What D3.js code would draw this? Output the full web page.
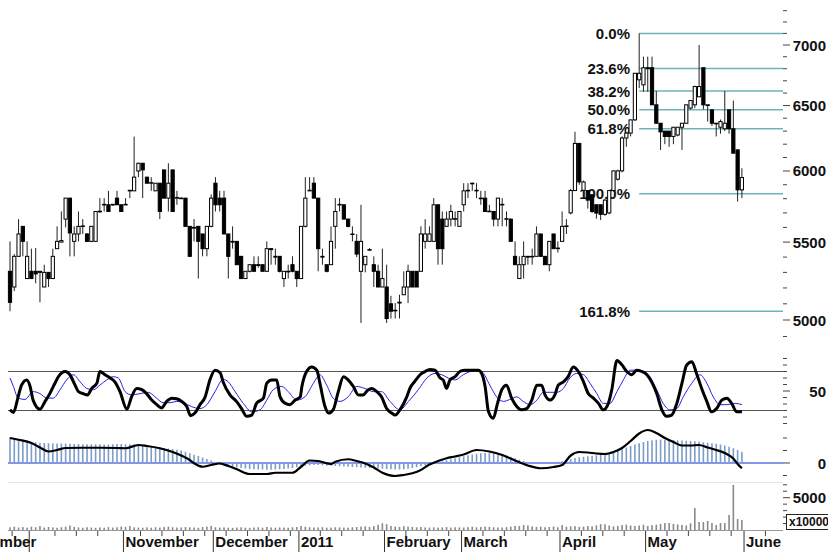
<!DOCTYPE html>
<html>
<head>
<meta charset="utf-8">
<script src="https://cdn.jsdelivr.net/npm/d3@7"></script>
<style>
  body { margin: 0; background: #fff; }
  svg text { font-family: "Liberation Sans", Arial, sans-serif; font-weight: bold; fill: #111; }
</style>
</head>
<body>
<svg id="chart" width="828" height="552"></svg>
<script>
// daily candles, index 0 = last days of September 2010, last = 31 May 2011
const open = [5307,5206,5405,5607,5260,5307,5307,5300,5206,5300,5260,5456,5500,5657,5804,5505,5555,5607,5555,5505,
  5505,5710,5757,5757,5757,5804,5757,5757,5856,5856,6000,6057,5955,5911,5856,5911,6008,5804,6008,5804,
  5804,5804,5607,5600,5607,5555,5456,5607,5911,5804,5804,5555,5505,5505,5405,5260,5307,5350,5350,5350,
  5307,5456,5405,5405,5260,5307,5350,5307,5260,5607,5856,5911,5804,5405,5350,5350,5607,5757,5757,5657,
  5555,5505,5307,5350,5450,5350,5307,5206,5206,5100,5060,5105,5157,5206,5307,5307,5307,5505,5505,5505,
  5757,5657,5607,5657,5657,5607,5757,5856,5911,5856,5804,5804,5710,5710,5657,5757,5657,5657,5405,5260,
  5350,5405,5405,5405,5555,5405,5350,5555,5456,5505,5607,5700,5858,6206,5860,5858,5828,5757,5757,5690,
  5700,5858,5940,6001,6247,6285,6387,6708,6667,6808,6808,6506,6361,6300,6300,6259,6270,6330,6361,6480,
  6506,6570,6808,6506,6466,6361,6330,6318,6466,6318,6157,5863];
const high = [5505,5420,5657,5607,5505,5456,5460,5307,5350,5300,5456,5607,5710,5804,5804,5607,5710,5657,5560,5610,
  5710,5804,5804,5856,5760,5856,5757,5804,5860,6258,6060,6057,5955,5955,5911,5911,6008,6057,6008,5856,
  5810,5804,5607,5657,5607,5555,5607,5830,5955,5856,5856,5555,5607,5505,5405,5307,5350,5405,5405,5350,
  5505,5456,5456,5405,5307,5350,5405,5307,5607,5955,5955,5955,5804,5456,5350,5607,5804,5804,5757,5660,
  5607,5555,5757,5405,5460,5405,5350,5456,5350,5150,5105,5157,5307,5350,5307,5307,5607,5657,5607,5804,
  5757,5710,5710,5757,5710,5710,5911,5911,5915,5911,5856,5856,5757,5710,5804,5804,5710,5660,5505,5405,
  5505,5405,5456,5607,5555,5405,5505,5555,5505,5710,5657,5870,6295,6206,5930,5858,5830,5760,5760,5800,
  5860,6001,6010,6260,6290,6390,6762,7100,6901,6901,6901,6617,6361,6300,6300,6330,6330,6361,6506,6540,
  6660,7000,6808,6506,6466,6361,6390,6617,6466,6540,6160,6020];
const low = [5054,5180,5405,5405,5260,5260,5230,5109,5206,5206,5260,5456,5500,5600,5405,5405,5505,5555,5500,5500,
  5505,5700,5710,5710,5750,5757,5710,5757,5804,5856,5955,5804,5911,5856,5856,5657,5804,5710,5710,5757,
  5800,5607,5405,5505,5260,5405,5405,5600,5710,5710,5555,5260,5456,5350,5260,5260,5300,5307,5330,5307,
  5307,5350,5350,5300,5206,5260,5300,5206,5260,5600,5856,5804,5307,5350,5300,5350,5456,5710,5657,5600,
  5505,5400,4982,5300,5440,5206,5206,5206,4982,5009,5009,5009,5157,5105,5206,5206,5307,5456,5505,5505,
  5350,5350,5607,5607,5607,5607,5710,5804,5856,5804,5757,5710,5710,5607,5607,5607,5607,5505,5350,5260,
  5260,5350,5350,5405,5405,5350,5307,5456,5430,5505,5555,5690,5858,5900,5850,5730,5700,5660,5650,5680,
  5690,5850,5930,5990,6180,6259,6380,6640,6611,6611,6506,6361,6157,6200,6180,6200,6260,6157,6361,6470,
  6480,6570,6470,6374,6340,6259,6280,6300,6280,6132,5780,5804];
const close = [5109,5405,5555,5505,5405,5260,5290,5307,5300,5260,5405,5505,5510,5804,5562,5555,5607,5610,5505,5607,
  5710,5712,5760,5710,5760,5757,5710,5760,5860,5955,6057,6008,5911,5915,5911,5710,5804,5911,5710,5808,
  5800,5607,5405,5595,5505,5456,5607,5804,5757,5757,5555,5405,5500,5350,5260,5307,5350,5307,5345,5307,
  5456,5450,5400,5307,5307,5305,5307,5260,5607,5804,5860,5804,5456,5400,5307,5505,5710,5760,5657,5607,
  5555,5420,5505,5405,5450,5307,5206,5260,5009,5054,5060,5110,5206,5307,5206,5206,5555,5555,5555,5757,
  5456,5456,5657,5710,5660,5710,5856,5860,5911,5860,5800,5710,5712,5657,5804,5760,5660,5505,5350,5350,
  5405,5400,5405,5555,5405,5350,5505,5456,5460,5607,5610,5858,6206,5920,5920,5790,5710,5699,5690,5790,
  5858,6001,6001,6247,6285,6387,6762,6762,6808,6800,6506,6361,6294,6259,6259,6330,6330,6361,6506,6540,
  6653,6653,6506,6500,6361,6361,6374,6361,6318,6132,5863,5952];

// volume, x10000 shares
const volume = [420,520,380,450,360,500,420,610,380,470,400,350,430,520,690,480,400,350,420,380,330,
  400,360,450,380,420,550,480,610,420,380,350,400,360,430,380,450,520,420,380,400,460,
  420,380,350,460,520,640,420,380,400,350,330,380,420,360,340,380,420,350,470,380,360,
  400,380,350,420,460,620,500,420,380,400,440,360,380,420,400,380,360,420,460,520,560,
  480,600,820,1050,900,620,520,480,600,520,460,420,480,400,380,420,360,400,460,380,420,
  400,380,440,500,420,460,520,480,420,400,380,440,520,640,620,780,700,560,480,520,420,
  460,540,420,760,500,560,600,480,520,620,560,720,900,880,700,560,620,760,820,700,620,
  700,820,620,740,820,940,1080,1080,940,860,780,700,1040,3400,1240,1240,1400,1080,780,1080,1080,
  2330,6980,1700,1550];

// MACD histogram per day and MACD line read at its turning points [day, value]
const macdHist = [103,100,96,92,88,85,83,81,80,79,78,78,78,78,77,76,76,75,75,75,75,75,74,74,75,76,76,75,75,75,
  74,72,70,67,64,62,60,58,56,53,50,45,39,33,28,22,16,10,4,
  -4,-8,-12,-15,-18,-20,-22,-24,-25,-26,-26,-27,-27,-26,-25,-24,-22,-20,-17,
  -14,-11,-9,-8,-8,-9,-10,-11,-12,-13,-14,-15,-16,-17,-18,
  -19,-20,-21,-22,-23,-24,-25,-26,-26,-25,-23,-20,-17,
  -13,-9,-5,-1,3,7,11,15,19,23,27,31,34,37,39,40,40,39,37,34,
  30,25,19,13,8,4,1,-1,-2,-2,0,2,5,8,12,16,
  20,23,25,27,29,31,34,37,41,45,50,56,62,68,
  74,79,84,88,91,93,94,94,93,92,91,90,89,88,87,85,83,81,79,77,74,70,65,59,52,45];
const macdLine = [[0,100],[2,93],[5,80],[7,62],[9,46],[11,52],[13,60],[17,61],[21,61],[25,60],[27,59],[30,72],
  [32,68],[35,59],[38,44],[40,30],[42,12],[43,-1],[45,-15],[47,-8],[49,-2],[51,-12],[53,-25],[56,-44],[60,-44],
  [62,-39],[66,-39],[68,-15],[70,10],[72,8],[75,-4],[76,5],[79,15],[81,8],[83,-2],[85,-18],[87,-39],[90,-52],
  [92,-48],[94,-41],[96,-28],[98,-6],[100,8],[102,19],[104,26],[106,34],[109,52],[112,46],[115,32],[118,10],
  [121,-10],[124,-21],[127,-16],[129,-8],[131,30],[133,44],[135,42],[137,38],[139,36],[141,44],[143,60],
  [145,88],[147,118],[149,132],[151,120],[153,100],[155,84],[157,70],[159,70],[161,72],[163,62],[165,52],
  [167,40],[169,18],[170,-4],[171,-21]];

// slow stochastic %K and %D, read at their turning points [day, value]
const stochK = [[0,21],[0.8,17],[1.9,41],[2.7,59],[3.9,67],[4.7,57],[5.4,36],[7,22],[8.2,34],[9.3,46],[10.5,62],
  [11.3,72],[12.9,80],[14,75],[15.2,59],[16,49],[17.1,46],[18.1,44],[19.1,54],[20.3,62],[21,80],[22.2,75],
  [23.4,70],[24.5,64],[25.7,49],[27.3,22],[28.4,41],[29.6,54],[30.8,52],[31.9,46],[33.1,36],[34.3,29],
  [35.4,24],[36.6,34],[37.8,39],[38.9,38],[40.1,34],[41.3,26],[42.2,12],[43.2,16],[44.4,29],[45.6,41],
  [46.7,67],[47.9,82],[49.1,78],[49.8,64],[51.4,44],[52.9,34],[54.1,23],[55.3,11],[56.5,13],[57.6,31],
  [59.2,39],[60,62],[61.1,67],[62.3,67],[63.1,41],[64.3,31],[65.4,29],[66.6,36],[67.8,41],[68.2,57],
  [69.3,80],[70.5,87],[71.7,82],[72.4,62],[73.6,26],[74.4,16],[75.5,21],[76.7,49],[77.9,72],[79,67],
  [80.2,57],[81.4,44],[82.5,44],[83.7,52],[84.5,54],[85.7,49],[86.8,41],[88,23],[89.2,16],[90,13],
  [91.1,21],[92.7,41],[93.5,55],[94.6,65],[95.8,75],[97,80],[98.1,83],[99.3,82],[100.5,70],[101.2,67],
  [102,54],[102.8,67],[104,72],[105.1,80],[106.3,82],[107.9,82],[109.4,82],[110.2,77],[111,57],[111.8,18],
  [112.9,8],[113.9,31],[114.9,52],[116,59],[117.2,39],[118.4,26],[119.5,21],[120.7,23],[121.9,36],
  [123.1,59],[124.2,59],[125,44],[126.2,36],[127.3,44],[128.1,59],[129.3,64],[130.4,72],[131.6,87],
  [132.8,80],[134,64],[135.1,46],[136.3,39],[137.5,31],[138.6,21],[139.8,31],[140.6,52],[141.8,97],
  [143,90],[144.1,80],[145.3,75],[146.4,82],[147.6,80],[148.8,75],[149.9,64],[151.1,46],[152.3,21],
  [153.4,11],[154.6,13],[155.8,31],[157,62],[158.1,90],[159.3,95],[160.4,77],[161.6,54],[162.8,34],
  [163.9,18],[165.1,23],[166.3,36],[167.5,39],[168.6,31],[169.8,18],[171,18]];
const stochD = [[0,70],[0.8,57],[1.9,39],[3.5,37],[5.4,49],[7,46],[8.6,39],[10.1,39],[11.7,52],[13.2,67],
  [14.8,75],[16.4,64],[17.9,54],[19.5,52],[21,59],[22.6,67],[24.1,72],[25.3,70],[26.9,49],[28.4,44],
  [30.4,46],[32.3,48],[33.9,41],[35.8,32],[37.4,32],[38.9,34],[40.5,32],[42.4,26],[44.4,23],[46,29],
  [47.9,49],[49.8,68],[51,64],[52.6,49],[54.5,31],[56.5,18],[58.4,21],[60,36],[61.5,52],[63.5,57],
  [65,49],[67,36],[68.9,41],[70.9,62],[72.4,75],[74,59],[75.5,39],[77.1,34],[79,41],[81,57],[82.9,54],
  [84.9,49],[86.8,49],[88.8,34],[91.1,21],[93.1,34],[95.4,52],[97.4,70],[99.3,77],[100.9,75],[102.4,70],
  [104,67],[105.9,75],[107.5,80],[109,82],[110.2,80],[112.1,59],[113.7,41],[115.3,34],[116.8,37],
  [118.4,41],[119.9,34],[121.5,29],[123.1,36],[124.6,48],[126.2,48],[127.7,48],[129.3,54],[130.8,70],
  [132.4,77],[134,75],[135.5,62],[137.1,46],[138.6,31],[140.2,31],[141.8,49],[143.3,67],[144.9,82],
  [146.4,82],[148,80],[149.5,72],[151.1,52],[152.6,31],[154.2,21],[155.8,23],[157.3,41],[159.3,62],
  [161.2,75],[162.8,62],[164.3,41],[165.9,29],[167.5,29],[169.4,31],[171,29]];

// fibonacci retracement drawn from the April high
const fibHigh = 7100, fibLow = 5835, fibFrom = 147;
const fibRatios = [0, 0.236, 0.382, 0.5, 0.618, 1, 1.618];
const fibLabels = ["0.0%", "23.6%", "38.2%", "50.0%", "61.8%", "100.0%", "161.8%"];

// first trading day of each month (as day index, separator sits half a day before)
const monthNames = ["September", "October", "November", "December", "2011", "February", "March", "April", "May", "June"];
const monthStarts = [-16.5, 4.5, 26.5, 47.5, 67.5, 87.5, 105.5, 128.5, 148.5, 171.5];
const weekTicks = [0.5, 10.5, 15.5, 20.5, 30.5, 35.5, 40.5, 45.5, 50.5, 55.5, 60.5, 65.5, 72.5, 77.5, 82.5,
  92.5, 97.5, 102.5, 110.5, 115.5, 120.5, 125.5, 133.5, 138.5, 143.5, 153.5, 158.5, 163.5, 168.5, 176.5];

const priceLabels = [5000, 5500, 6000, 6500, 7000];

// ---------------------------------------------------------------
const W = 828, right = 783, left = 8;
const svg = d3.select("#chart");
const days = d3.range(open.length);

const x = d3.scaleLinear().domain([0, 171]).range([10, 741.9]);
const yPrice = d3.scaleLog().domain([5000, 7000]).range([320, 45]);
const yStoch = d3.scaleLinear().domain([0, 100]).range([423.5, 358.5]);
const yMacd = d3.scaleLinear().domain([-80, 140]).range([483, 428]);
const yVol = d3.scaleLinear().domain([0, 5000]).range([530, 497.7]);

// panel separators
[482].forEach(y => svg.append("line").attr("x1", left).attr("x2", right)
  .attr("y1", y + 0.5).attr("y2", y + 0.5).attr("stroke", "#e4e4e4"));

// fibonacci
const fib = svg.append("g");
fibRatios.forEach((r, k) => {
  const p = fibHigh - r * (fibHigh - fibLow);
  fib.append("line")
    .attr("x1", x(fibFrom)).attr("x2", right)
    .attr("y1", yPrice(p)).attr("y2", yPrice(p))
    .attr("stroke", "#6fb4b4").attr("stroke-width", 1.5);
  fib.append("text")
    .attr("x", 630).attr("y", yPrice(p))
    .attr("text-anchor", "end").attr("dominant-baseline", "central")
    .attr("font-size", 15)
    .text(fibLabels[k]);
});

// candles
const candles = svg.append("g");
candles.selectAll(".wick").data(days).join("line")
  .attr("class", "wick")
  .attr("x1", i => x(i)).attr("x2", i => x(i))
  .attr("y1", i => yPrice(high[i])).attr("y2", i => yPrice(low[i]))
  .attr("stroke", "#222");
candles.selectAll(".body").data(days).join("rect")
  .attr("class", "body")
  .attr("x", i => x(i) - 1.6).attr("width", 3.2)
  .attr("y", i => yPrice(Math.max(open[i], close[i])))
  .attr("height", i => Math.max(0.6, Math.abs(yPrice(open[i]) - yPrice(close[i]))))
  .attr("fill", i => close[i] >= open[i] ? "#fff" : "#000")
  .attr("stroke", "#000");

// stochastic
[80, 20].forEach(v => svg.append("line").attr("x1", left).attr("x2", right)
  .attr("y1", yStoch(v)).attr("y2", yStoch(v)).attr("stroke", "#555").attr("stroke-width", 1.2));
const stochPath = d3.line().x(d => x(d[0])).y(d => yStoch(d[1])).curve(d3.curveMonotoneX);
svg.append("path").attr("d", stochPath(stochD))
  .attr("fill", "none").attr("stroke", "#2323e6").attr("stroke-width", 1);
svg.append("path").attr("d", stochPath(stochK))
  .attr("fill", "none").attr("stroke", "#000").attr("stroke-width", 3).attr("stroke-linejoin", "round");

// MACD
svg.selectAll(".hist").data(days).join("rect")
  .attr("class", "hist")
  .attr("x", i => x(i) - 0.8).attr("width", 1.6)
  .attr("y", i => Math.min(yMacd(0), yMacd(macdHist[i])))
  .attr("height", i => Math.abs(yMacd(macdHist[i]) - yMacd(0)))
  .attr("fill", "#7d9dc8");
svg.append("line").attr("x1", left).attr("x2", right)
  .attr("y1", yMacd(0)).attr("y2", yMacd(0)).attr("stroke", "#8496e6").attr("stroke-width", 2);
svg.append("path")
  .attr("d", d3.line().x(d => x(d[0])).y(d => yMacd(d[1])).curve(d3.curveMonotoneX)(macdLine))
  .attr("fill", "none").attr("stroke", "#000").attr("stroke-width", 2.2);

// volume
svg.selectAll(".vol").data(days).join("rect")
  .attr("class", "vol")
  .attr("x", i => x(i) - 0.8).attr("width", 1.6)
  .attr("y", i => yVol(volume[i]))
  .attr("height", i => yVol(0) - yVol(volume[i]))
  .attr("fill", "#8a8a8a");

// right-hand scales
const axisG = svg.append("g").attr("stroke", "#444");
function tick(y, major) {
  axisG.append("line").attr("x1", right).attr("x2", right + (major ? 7 : 4))
    .attr("y1", y).attr("y2", y);
}
function label(y, t) {
  svg.append("text").attr("x", 826).attr("y", y)
    .attr("text-anchor", "end").attr("dominant-baseline", "central")
    .attr("font-size", 15).text(t);
}
d3.range(4900, 7400, 100).forEach(v => tick(yPrice(v), priceLabels.includes(v)));
priceLabels.forEach(v => label(yPrice(v), v));
d3.range(0, 101, 10).forEach(v => tick(yStoch(v), v === 50));
label(yStoch(50), "50");
[-50, 0, 50, 100].forEach(v => tick(yMacd(v), v === 0));
label(yMacd(0), "0");
d3.range(1000, 7001, 1000).forEach(v => tick(yVol(v), v === 5000));
label(yVol(5000), "5000");
svg.append("rect").attr("x", 786.5).attr("y", 514.5).attr("width", 44).attr("height", 15)
  .attr("fill", "#fff").attr("stroke", "#222");
svg.append("text").attr("x", 789).attr("y", 526).attr("font-size", 12).text("x10000");

// date axis
svg.append("line").attr("x1", left).attr("x2", right).attr("y1", 530.5).attr("y2", 530.5).attr("stroke", "#999");
svg.selectAll(".wk").data(weekTicks).join("line")
  .attr("class", "wk")
  .attr("x1", d => x(d)).attr("x2", d => x(d)).attr("y1", 531).attr("y2", 536)
  .attr("stroke", "#444");
svg.selectAll(".mo").data(monthStarts).join("line")
  .attr("class", "mo")
  .attr("x1", d => x(d)).attr("x2", d => x(d)).attr("y1", 531).attr("y2", 552)
  .attr("stroke", "#333");
monthNames.forEach((m, k) => {
  if (m === "October") return;          // hidden, the september label runs over it
  const t = svg.append("text").attr("y", 547).attr("font-size", 15).text(m);
  if (k === 0) t.attr("x", x(monthStarts[1]) + 7).attr("text-anchor", "end");
  else t.attr("x", x(monthStarts[k]) + 2);
});
</script>
</body>
</html>
